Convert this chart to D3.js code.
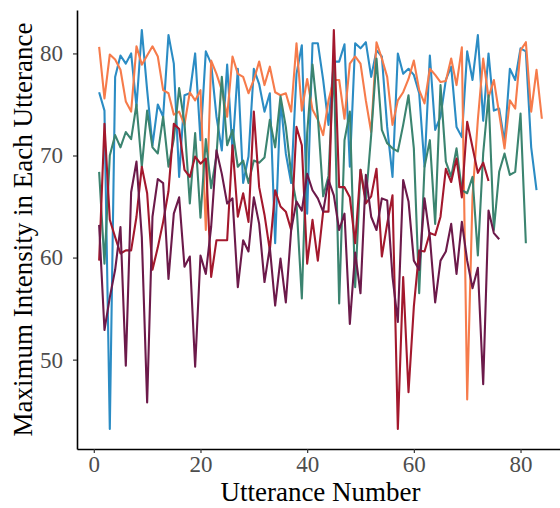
<!DOCTYPE html>
<html>
<head>
<meta charset="utf-8">
<script src="https://cdn.jsdelivr.net/npm/d3@7"></script>
<style>
  body { margin: 0; background: #fff; }
  svg { display: block; font-family: "Liberation Serif", "DejaVu Serif", serif; }
</style>
</head>
<body>
<div id="chart"></div>
<script>
// Values, one array per line, utterance 1..n
const blueVals = [76.2, 74.4, 43.2, 77.7, 79.8, 79, 80, 74.8, 82.3, 76.4, 71, 75, 73.8, 81.8, 79, 67.9, 75.9, 76.1, 80, 71.5,
    80.2, 79, 73.8, 70.5, 78.9, 70.5, 78.5, 67.3, 69.9, 78.5, 77, 74.3, 76.1, 61.4, 75.4, 70.2, 67.3, 78, 80.8, 64.3,
    81, 81, 77.4, 73, 79.2, 79.2, 80.9, 68.9, 81, 80.5, 81.1, 77.7, 80.3, 79.7, 72.8, 67.9, 80, 78, 78.5, 77.9,
    76.1, 68.9, 79.8, 72.5, 73.8, 77.4, 78.7, 72.8, 71.8, 80.2, 77.4, 81.8, 73.4, 80, 74.4, 74.6, 71.3, 78.5, 77.4, 80.5,
    80.2, 70.8, 66.6];
const orangeVals = [80.65, 75.6, 79.9, 79.4, 78.4, 75.3, 74.3, 80.7, 78.9, 79.8, 80.7, 79.7, 76.4, 76.1, 74, 74.3, 73, 76.2, 75.4, 76.4,
    62.7, 79.3, 78, 76.4, 73.8, 79.7, 78, 77.7, 76.1, 77.4, 79.2, 76.9, 78.7, 76.2, 75.9, 76.1, 74.3, 81, 74.4, 77.5,
    74.5, 73.5, 72, 75.4, 77.4, 77.4, 73.6, 79, 79.7, 79, 75.4, 72.3, 81.1, 79.5, 77.7, 73, 75.4, 76.2, 77.5, 79.3,
    76.4, 75.1, 78.5, 77.9, 77.2, 77.3, 79.5, 76.9, 80.6, 46.1, 66, 73.5, 79.5, 75.7, 77.4, 74.1, 70.7, 75.4, 74.6, 80.3,
    81.1, 74.3, 78.4, 73.6];
const greenVals = [68.4, 59.4, 70, 72, 70.8, 72.3, 71.6, 75, 68.9, 74.4, 70.8, 70.2, 73.8, 68.9, 71.6, 76.6, 73.2, 65.3, 72.2, 63.9,
    71.6, 66.8, 70, 77.7, 71, 72.5, 68.9, 69.5, 67.3, 69.5, 69.3, 69.8, 73.5, 70.8, 75.8, 72.8, 68.2, 65.3, 56, 72.2,
    78.9, 73.8, 66, 68, 79, 55.5, 71.5, 74.3, 57.1, 68.6, 65.6, 72, 79.5, 72.5, 71.2, 70.7, 70.4, 73, 75.9, 70.7,
    56.5, 68.9, 71.5, 63.3, 76.9, 69.4, 67.9, 70.7, 66.6, 66.3, 67.9, 60.2, 70.2, 75.9, 62.7, 68.4, 70.2, 68.1, 68.4, 74.1,
    61.4];
const redVals = [59.7, 73.1, 63.7, 62, 60.4, 60.7, 60.7, 64, 68.9, 66.3, 58.8, 61, 63.5, 66.5, 73.1, 72.6, 68.6, 67.9, 69.9, 69.2,
    69.7, 58.1, 61.7, 61.7, 61.7, 71, 64, 66.3, 63.5, 74.3, 66.9, 64.2, 60.7, 66.6, 65, 64.5, 62.7, 72.8, 71, 59.4,
    63.7, 59.7, 64.5, 64.5, 82.3, 66.9, 66.9, 65.9, 61.4, 68.6, 65.3, 66, 68.7, 60.1, 63.3, 66.1, 43.2, 58.1, 46.8, 55.2,
    60.7, 60.6, 62.4, 62.2, 64, 68.7, 67.4, 69.7, 65.9, 73.3, 70.8, 68.3, 69.3, 67.5];
const purpleVals = [63.2, 52.9, 56.1, 58.8, 63, 49.4, 66.4, 69.4, 62, 45.8, 64, 67.7, 67.3, 57.9, 64.3, 65.9, 59.1, 60.1, 49.3, 60.2,
    58.4, 63, 70.5, 68.2, 65.3, 65.8, 57.1, 61.7, 60.6, 65.9, 63.3, 57.6, 61, 55.3, 59.9, 55.6, 62.7, 65.5, 64.6, 68.2,
    66.6, 65.8, 64.5, 67.6, 66.1, 62.7, 64.3, 53.5, 60.5, 56.5, 68.1, 64, 62.7, 65.8, 65.6, 58.1, 53.7, 67.6, 65.5, 59.7,
    58.8, 65.8, 62, 55.6, 59.7, 60.6, 63.3, 58.4, 63.5, 59.7, 57, 59, 47.6, 64.6, 62.4, 61.8];

const seriesNames = ["blue", "orange", "green", "red", "purple"];
const seriesColors = ["#2b8cc4", "#f67b4b", "#3b8470", "#a3182d", "#6c1a4a"];
const xTicks = [0, 20, 40, 60, 80];
const yTicks = [50, 60, 70, 80];

const allSeries = [blueVals, orangeVals, greenVals, redVals, purpleVals].map((vals, k) => ({
    name: seriesNames[k],
    color: seriesColors[k],
    points: vals.map((v, i) => ({ n: i + 1, v: v }))
}));

const W = 560, H = 508;
const margin = { top: 10, right: -4, bottom: 59, left: 77 };

const svg = d3.select("#chart").append("svg")
    .attr("width", W)
    .attr("height", H);

// ggplot style 5% expansion on both axes
const maxN = d3.max(allSeries, s => s.points.length);
const allV = allSeries.flatMap(s => s.points.map(p => p.v));
const [vMin, vMax] = d3.extent(allV);
const xPad = (maxN - 1) * 0.05, yPad = (vMax - vMin) * 0.05;

const x = d3.scaleLinear()
    .domain([1 - xPad, maxN + xPad])
    .range([margin.left, W - margin.right]);

const y = d3.scaleLinear()
    .domain([vMin - yPad, vMax + yPad])
    .range([H - margin.bottom, margin.top]);

const line = d3.line()
    .x(d => x(d.n))
    .y(d => y(d.v));

svg.append("g")
    .selectAll("path")
    .data(allSeries)
    .join("path")
    .attr("fill", "none")
    .attr("stroke", d => d.color)
    .attr("stroke-width", 2.1)
    .attr("stroke-linejoin", "round")
    .attr("d", d => line(d.points));

// axes
const xAxis = svg.append("g")
    .attr("transform", `translate(0,${H - margin.bottom})`)
    .call(d3.axisBottom(x).tickValues(xTicks).tickSize(4).tickPadding(3).tickSizeOuter(0));

const yAxis = svg.append("g")
    .attr("transform", `translate(${margin.left},0)`)
    .call(d3.axisLeft(y).tickValues(yTicks).tickSize(4).tickPadding(10).tickSizeOuter(0));

[xAxis, yAxis].forEach(g => {
    g.select(".domain").attr("stroke", "#000").attr("stroke-width", 1.6);
    g.selectAll(".tick line").attr("stroke", "#333").attr("stroke-width", 1.2);
    g.selectAll(".tick text")
        .attr("fill", "#4d4d4d")
        .style("font-family", "'Liberation Serif', serif")
        .style("font-size", "23px");
});

// axis titles
svg.append("text")
    .attr("x", (margin.left + W - margin.right) / 2)
    .attr("y", 501)
    .attr("text-anchor", "middle")
    .style("font-size", "27px")
    .text("Utterance Number");

svg.append("text")
    .attr("transform", `translate(32,${(margin.top + H - margin.bottom) / 2}) rotate(-90)`)
    .attr("text-anchor", "middle")
    .style("font-size", "27px")
    .text("Maximum Intensity in Each Utterance");
</script>
</body>
</html>
